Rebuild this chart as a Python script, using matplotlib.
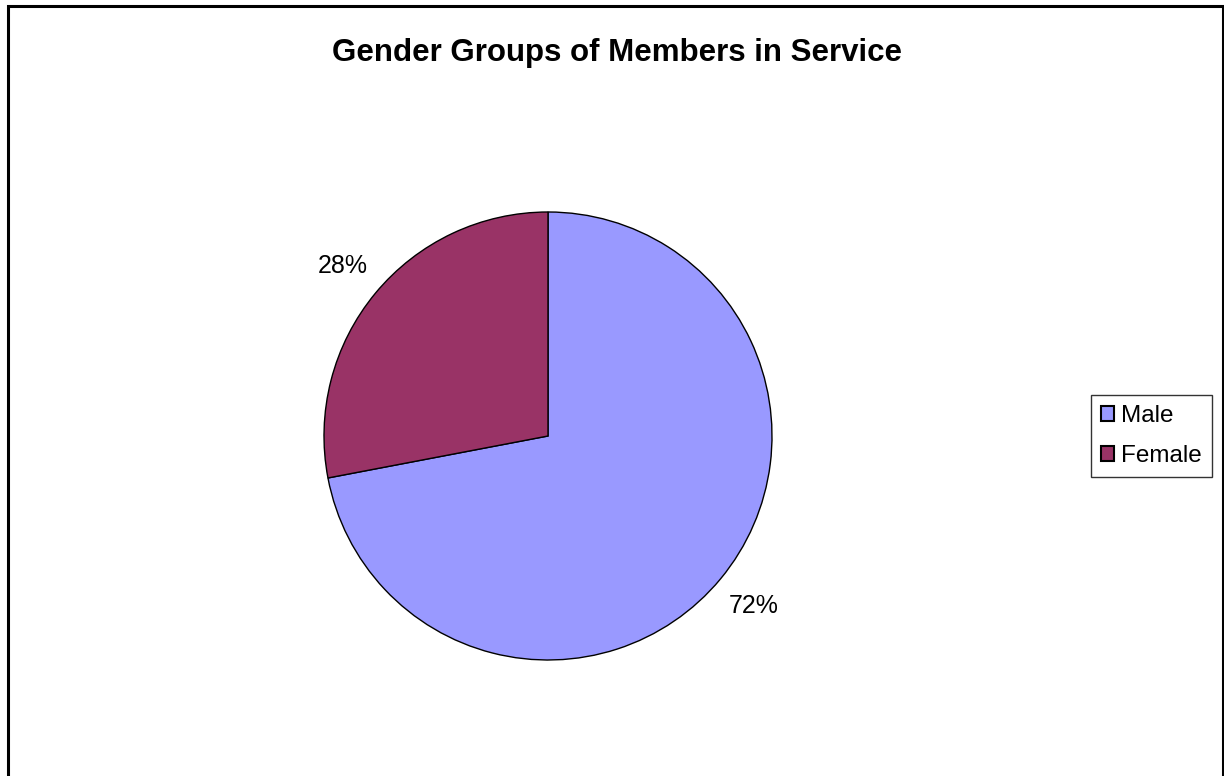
import matplotlib.pyplot as plt
from matplotlib.patches import Rectangle, Patch

plt.rcParams['font.family'] = ['Liberation Sans', 'DejaVu Sans']

labels = ["Male", "Female"]
values = [72, 28]
colors = ["#9999FF", "#993366"]

W, H = 1224, 776
fig = plt.figure(figsize=(W / 100, H / 100), dpi=100)

# pie axes: center (548, 436), radius 224 px
cx, cy, r = 548, 436, 224
ax = fig.add_axes([(cx - r) / W, (H - cy - r) / H, 2 * r / W, 2 * r / H])
wedges, _, autotexts = ax.pie(values, colors=colors, startangle=90, counterclock=False,
                              autopct="%d%%", pctdistance=1.19,
                              wedgeprops=dict(edgecolor="black", linewidth=1.0),
                              textprops=dict(fontsize=18))
ax.set_xlim(-1, 1)
ax.set_ylim(-1, 1)
ax.set_aspect("equal")
ax.axis("off")

fig.text(617 / W, 1 - 53 / H, "Gender Groups of Members in Service",
         ha="center", va="center", fontsize=22.5, fontweight="bold")

handles = [Patch(facecolor=c, edgecolor="black", linewidth=1.5) for c in colors]
fig.legend(handles, labels, loc="center left", bbox_to_anchor=(1091 / W, 1 - 436 / H),
           fontsize=17.5, frameon=True, fancybox=False, edgecolor="black",
           handlelength=0.55, handleheight=0.55, handletextpad=0.3,
           labelspacing=0.75, borderpad=0.4, borderaxespad=0)

# outer frame (bottom edge cut off)
fig.add_artist(Rectangle((7.5 / W, -0.05), (1222.5 - 7.5) / W, 1.05 - 6 / H,
                         transform=fig.transFigure, fill=False,
                         edgecolor="black", linewidth=2.2))

fig.savefig("out.png", dpi=100)
